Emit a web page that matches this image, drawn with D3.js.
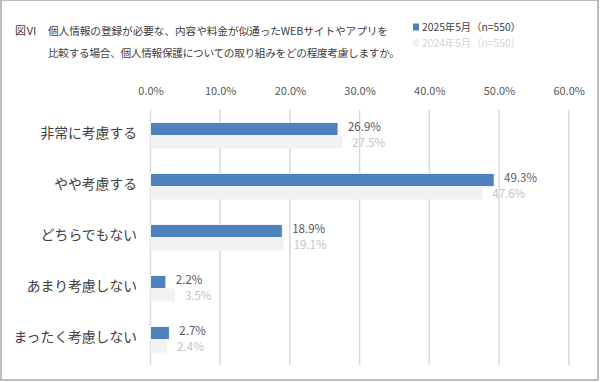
<!DOCTYPE html>
<html>
<head>
<meta charset="utf-8">
<script src="https://cdn.jsdelivr.net/npm/d3@7"></script>
<style>
  body { margin: 0; background: #fff; }
  svg { display: block; font-family: "Noto Sans CJK JP", "Noto Sans", sans-serif; }
</style>
</head>
<body>
<svg width="600" height="382"></svg>
<script>
const categories = ["非常に考慮する", "やや考慮する", "どちらでもない", "あまり考慮しない", "まったく考慮しない"];
const seriesNames = ["2025年5月（n=550）", "2024年5月（n=550）"];
const values2025 = [26.9, 49.3, 18.9, 2.2, 2.7];
const values2024 = [27.5, 47.6, 19.1, 3.5, 2.4];
const tickValues = [0, 10, 20, 30, 40, 50, 60];

const barColors = ["#4f81bd", "#f2f2f2"];
const labelColors = ["#595959", "#c4c4c4"];

const svg = d3.select("svg");
const width = +svg.attr("width");
const height = +svg.attr("height");

// outer frame
svg.append("rect")
  .attr("x", 1).attr("y", 0)
  .attr("width", width - 3).attr("height", 380)
  .attr("fill", "none")
  .attr("stroke", "#a6a6a6")
  .attr("stroke-width", 1.5);

// title
svg.append("text")
  .attr("x", 15).attr("y", 35)
  .attr("font-size", "11px").attr("fill", "#404040")
  .text("図Ⅵ");
svg.append("text")
  .attr("x", 48).attr("y", 35)
  .attr("font-size", "10.7px").attr("fill", "#404040")
  .attr("textLength", 340).attr("lengthAdjust", "spacing")
  .text("個人情報の登録が必要な、内容や料金が似通ったWEBサイトやアプリを");
svg.append("text")
  .attr("x", 48).attr("y", 57)
  .attr("font-size", "10.7px").attr("fill", "#404040")
  .attr("textLength", 352).attr("lengthAdjust", "spacing")
  .text("比較する場合、個人情報保護についての取り組みをどの程度考慮しますか。");

// legend
const legend = svg.append("g").attr("transform", "translate(413, 0)");
seriesNames.forEach((name, i) => {
  const ly = 27 + i * 16;
  legend.append("rect")
    .attr("x", 0).attr("y", ly - 3.5)
    .attr("width", 6).attr("height", 7)
    .attr("fill", barColors[i]);
  legend.append("text")
    .attr("x", 9).attr("y", ly + 3.7)
    .attr("font-size", "10.3px")
    .attr("fill", i === 0 ? "#404040" : "#d4d4d4")
    .text(name);
});

// scales
const x = d3.scaleLinear().domain([0, 60]).range([150.5, 568.7]);
const y = d3.scaleBand().domain(categories).range([110, 365]).paddingInner(0.49).paddingOuter(0.245);
const ySub = d3.scaleBand().domain([0, 1]).range([0, y.bandwidth()]);

// gridlines
svg.append("g")
  .selectAll("line")
  .data(tickValues)
  .join("line")
  .attr("x1", d => x(d)).attr("x2", d => x(d))
  .attr("y1", 110).attr("y2", 365)
  .attr("stroke", "#d9d9d9")
  .attr("stroke-width", 1.5);

// top axis labels
const axis = svg.append("g")
  .attr("transform", "translate(0, 99)")
  .call(d3.axisTop(x).tickValues(tickValues).tickFormat(d => d.toFixed(1) + "%").tickSize(0).tickPadding(4));
axis.select(".domain").remove();
axis.selectAll("text")
  .attr("font-family", "\"Noto Sans CJK JP\", sans-serif")
  .attr("font-size", "11px")
  .attr("fill", "#595959");

// category labels
const yAxis = svg.append("g")
  .attr("transform", "translate(137, -2)")
  .call(d3.axisLeft(y).tickSize(0).tickPadding(0));
yAxis.select(".domain").remove();
yAxis.selectAll("text")
  .attr("font-family", "\"Noto Sans CJK JP\", sans-serif")
  .attr("font-size", "13.8px")
  .attr("fill", "#404040");

// bars
const series = [values2025, values2024];
const labelShift = [2, 5];
series.forEach((vals, s) => {
  const g = svg.append("g");
  g.selectAll("rect")
    .data(vals)
    .join("rect")
    .attr("x", x(0))
    .attr("y", (d, i) => y(categories[i]) + ySub(s))
    .attr("width", d => x(d) - x(0))
    .attr("height", ySub.bandwidth())
    .attr("fill", barColors[s])
    .attr("stroke", s === 0 ? "#ffffff" : "none")
    .attr("stroke-width", 0.8);
  g.selectAll("text")
    .data(vals)
    .join("text")
    .attr("x", d => x(d) + 10)
    .attr("y", (d, i) => y(categories[i]) + ySub(s) + ySub.bandwidth() / 2 + labelShift[s])
    .attr("font-size", "11.5px")
    .attr("fill", labelColors[s])
    .text(d => d.toFixed(1) + "%");
});
</script>
</body>
</html>
